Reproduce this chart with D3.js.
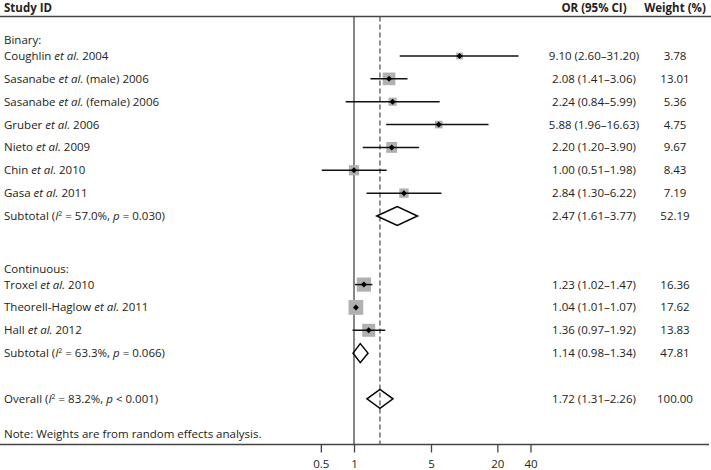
<!DOCTYPE html>
<html><head><meta charset="utf-8">
<script src="https://cdn.jsdelivr.net/npm/d3@7"></script>
<style>
html,body{margin:0;padding:0;background:#fff;}
svg{display:block;font-family:"Open Sans",sans-serif;}
</style></head>
<body>
<svg id="chart" width="711" height="470"></svg>
<script>
// ---- data ----
const studyLabels = [
  "Coughlin *et al.* 2004",
  "Sasanabe *et al.* (male) 2006",
  "Sasanabe *et al.* (female) 2006",
  "Gruber *et al.* 2006",
  "Nieto *et al.* 2009",
  "Chin *et al.* 2010",
  "Gasa *et al.* 2011",
  "Troxel *et al.* 2010",
  "Theorell-Haglow *et al.* 2011",
  "Hall *et al.* 2012"
];
const studyRows = [0, 1, 2, 3, 4, 5, 6, 10, 11, 12];
const studyOR = [9.10, 2.08, 2.24, 5.88, 2.20, 1.00, 2.84, 1.23, 1.04, 1.36];
const studyLo = [2.60, 1.41, 0.84, 1.96, 1.20, 0.51, 1.30, 1.02, 1.01, 0.97];
const studyHi = [31.20, 3.06, 5.99, 16.63, 3.90, 1.98, 6.22, 1.47, 1.07, 1.92];
const studyWeight = ["3.78", "13.01", "5.36", "4.75", "9.67", "8.43", "7.19", "16.36", "17.62", "13.83"];

const pooledLabels = [
  "Subtotal (*I*^2 = 57.0%, *p* = 0.030)",
  "Subtotal (*I*^2 = 63.3%, *p* = 0.066)",
  "Overall (*I*^2 = 83.2%, *p* < 0.001)"
];
const pooledRows = [7, 13, 15];
const pooledOR = [2.47, 1.14, 1.72];
const pooledLo = [1.61, 0.98, 1.31];
const pooledHi = [3.77, 1.34, 2.26];
const pooledWeight = ["52.19", "47.81", "100.00"];

const groupLabels = ["Binary:", "Continuous:"];
const groupRows = [-0.7, 9.3];

const tickValues = [0.5, 1, 5, 20, 40];
const tickLabels = ["0.5", "1", "5", "20", "40"];
const noteText = "Note: Weights are from random effects analysis.";
const overallOR = 1.72;

// ---- layout ----
const svg = d3.select("#chart");
const W = 711;
const topLineY = 16.5, axisY = 444.5;
const x = d3.scaleLog().domain([1, 5]).range([354, 431]);
const y = d3.scaleLinear().domain([0, 7]).range([56, 216]);
const xOR = 594, xW = 675, xLabel = 4;
const fontSize = 11.5;
const fmt = d3.format(".2f");
const ciText = (o, l, h) => `${fmt(o)} (${fmt(l)}\u2013${fmt(h)})`;

// rich text: *italic*, ^2 superscript
function richText(sel, str) {
  const parts = str.split(/(\*[^*]+\*|\^2)/).filter(s => s.length);
  let pendingDy = 0;
  parts.forEach(p => {
    let t;
    if (p === "^2") {
      t = sel.append("tspan").attr("font-size", fontSize * 0.6).attr("dy", -4 + pendingDy).text("2");
      pendingDy = 4;
      return;
    } else if (p.startsWith("*")) {
      t = sel.append("tspan").attr("font-style", "italic").text(p.slice(1, -1));
    } else {
      t = sel.append("tspan").text(p);
    }
    if (pendingDy) { t.attr("dy", pendingDy); pendingDy = 0; }
  });
}

const textCol = "#222";

// header
svg.append("text").attr("x", xLabel).attr("y", 12).attr("font-weight", "bold")
  .attr("font-size", fontSize).attr("fill", textCol).text("Study ID");
svg.append("text").attr("x", xOR).attr("y", 12).attr("font-weight", "bold").attr("text-anchor", "middle")
  .attr("font-size", fontSize).attr("fill", textCol).text("OR (95% CI)");
svg.append("text").attr("x", xW).attr("y", 12).attr("font-weight", "bold").attr("text-anchor", "middle")
  .attr("font-size", fontSize).attr("fill", textCol).text("Weight (%)");

// lines
svg.append("line").attr("x1", 0).attr("x2", W).attr("y1", topLineY).attr("y2", topLineY)
  .attr("stroke", "#444").attr("stroke-width", 1.5);
svg.append("line").attr("x1", 0).attr("x2", 709).attr("y1", axisY).attr("y2", axisY)
  .attr("stroke", "#444").attr("stroke-width", 1.5);
svg.append("line").attr("x1", x(1)).attr("x2", x(1)).attr("y1", topLineY).attr("y2", axisY)
  .attr("stroke", "#444").attr("stroke-width", 1.3);
svg.append("line").attr("x1", x(overallOR)).attr("x2", x(overallOR)).attr("y1", topLineY).attr("y2", axisY)
  .attr("stroke", "#555").attr("stroke-width", 1.3).attr("stroke-dasharray", "5,3");

// axis
const axis = d3.axisBottom(x).tickValues(tickValues).tickFormat((d, i) => tickLabels[i]).tickSize(8).tickSizeOuter(0);
const ax = svg.append("g").attr("transform", `translate(0,${axisY})`).call(axis);
ax.select(".domain").remove();
ax.selectAll(".tick line").attr("stroke", "#444").attr("stroke-width", 1.3);
ax.selectAll(".tick text").attr("font-family", "'Open Sans',sans-serif").attr("font-size", fontSize)
  .attr("fill", textCol).attr("dy", "1.05em");

// group labels
groupLabels.forEach((g, i) => {
  svg.append("text").attr("x", xLabel).attr("y", y(groupRows[i]) + 4).attr("font-size", fontSize)
    .attr("fill", textCol).text(g);
});

// studies
studyLabels.forEach((lab, i) => {
  const cy = y(studyRows[i]);
  richText(svg.append("text").attr("x", xLabel).attr("y", cy + 4).attr("font-size", fontSize).attr("fill", textCol), lab);
  svg.append("text").attr("x", xOR).attr("y", cy + 4).attr("text-anchor", "middle").attr("font-size", fontSize)
    .attr("fill", textCol).text(ciText(studyOR[i], studyLo[i], studyHi[i]));
  svg.append("text").attr("x", xW).attr("y", cy + 4).attr("text-anchor", "middle").attr("font-size", fontSize)
    .attr("fill", textCol).text(studyWeight[i]);
  const s = 3.5 * Math.sqrt(+studyWeight[i]);
  const cx = x(studyOR[i]);
  svg.append("rect").attr("x", cx - s / 2).attr("y", cy - s / 2).attr("width", s).attr("height", s).attr("fill", "#b0b0b0");
  svg.append("line").attr("x1", x(studyLo[i])).attr("x2", x(studyHi[i])).attr("y1", cy).attr("y2", cy)
    .attr("stroke", "#111").attr("stroke-width", 1.5);
  svg.append("path").attr("d", `M${cx - 3},${cy} L${cx},${cy - 3} L${cx + 3},${cy} L${cx},${cy + 3} Z`).attr("fill", "#000");
});

// pooled
pooledLabels.forEach((lab, i) => {
  const cy = y(pooledRows[i]);
  richText(svg.append("text").attr("x", xLabel).attr("y", cy + 4).attr("font-size", fontSize).attr("fill", textCol), lab);
  svg.append("text").attr("x", xOR).attr("y", cy + 4).attr("text-anchor", "middle").attr("font-size", fontSize)
    .attr("fill", textCol).text(ciText(pooledOR[i], pooledLo[i], pooledHi[i]));
  svg.append("text").attr("x", xW).attr("y", cy + 4).attr("text-anchor", "middle").attr("font-size", fontSize)
    .attr("fill", textCol).text(pooledWeight[i]);
  const h = 9.5;
  svg.append("path")
    .attr("d", `M${x(pooledLo[i])},${cy} L${x(pooledOR[i])},${cy - h} L${x(pooledHi[i])},${cy} L${x(pooledOR[i])},${cy + h} Z`)
    .attr("fill", "none").attr("stroke", "#000").attr("stroke-width", 1.5);
});

// note
svg.append("text").attr("x", xLabel).attr("y", 438).attr("font-size", fontSize).attr("fill", textCol).text(noteText);
</script>
</body></html>
